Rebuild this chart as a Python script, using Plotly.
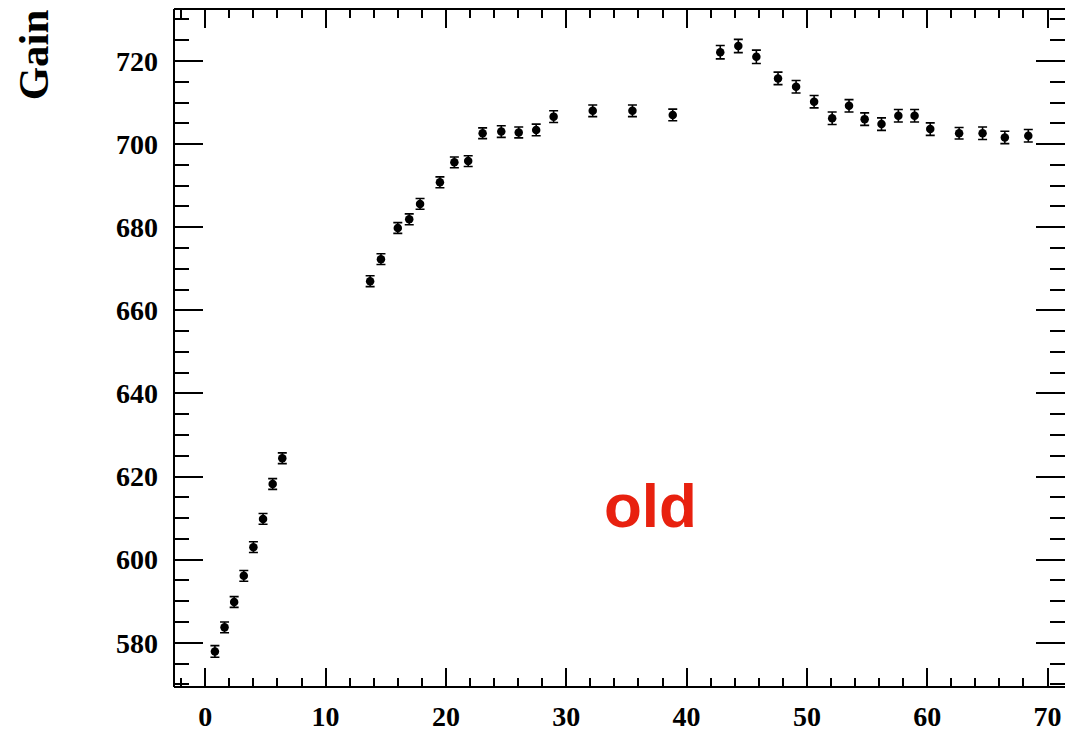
import plotly.graph_objects as go

# Data
run_x = [0.8, 1.6, 2.4, 3.2, 4.0, 4.8, 5.6, 6.4,
         13.7, 14.6, 16.0, 16.95, 17.85, 19.5, 20.7, 21.85, 23.05, 24.6, 26.05, 27.5, 28.95,
         32.2, 35.5, 38.85,
         42.8, 44.3, 45.8, 47.6, 49.1, 50.6, 52.1, 53.5, 54.8, 56.2, 57.6, 58.95, 60.25,
         62.65, 64.6, 66.45, 68.4]
gain = [577.9, 583.7, 589.8, 596.1, 603.0, 609.8, 618.2, 624.4,
        667.0, 672.3, 679.8, 681.9, 685.6, 690.8, 695.6, 695.9, 702.6, 703.0, 702.8, 703.4, 706.6,
        708.0, 708.0, 707.0,
        722.1, 723.6, 721.0, 715.8, 713.8, 710.2, 706.2, 709.2, 706.0, 704.8, 706.8, 706.8, 703.6,
        702.6, 702.6, 701.6, 702.0]
gain_err = [1.4, 1.3, 1.3, 1.3, 1.3, 1.3, 1.3, 1.3,
            1.3, 1.3, 1.3, 1.3, 1.3, 1.3, 1.3, 1.3, 1.3, 1.4, 1.3, 1.4, 1.4,
            1.4, 1.4, 1.4,
            1.6, 1.6, 1.6, 1.5, 1.5, 1.5, 1.5, 1.5, 1.5, 1.5, 1.5, 1.5, 1.5,
            1.4, 1.5, 1.5, 1.5]

x_range = [-2.6, 71.45]
y_range = [569.35, 732.5]
label_text = "old"
y_title = "Gain"

fig = go.Figure()
fig.add_trace(go.Scatter(
    x=run_x, y=gain, mode="markers",
    marker=dict(symbol="circle", size=8.5, color="black"),
    error_y=dict(type="data", array=gain_err, visible=True, color="black",
                 thickness=1.6, width=4.5),
    showlegend=False,
))

tickfont = dict(family="Liberation Serif", size=28, color="black", weight="bold")

fig.update_xaxes(
    range=x_range, showgrid=False, zeroline=False,
    showline=False, mirror="ticks",
    ticks="inside", ticklen=19, tickwidth=1.6, tickcolor="black",
    tick0=0, dtick=10,
    minor=dict(ticks="inside", ticklen=9, tickwidth=1.6, tickcolor="black", dtick=2, tick0=0, showgrid=False),
    tickfont=tickfont, ticklabelstandoff=10,
)
fig.update_yaxes(
    range=y_range, showgrid=False, zeroline=False,
    showline=False, mirror="ticks",
    ticks="inside", ticklen=29, tickwidth=1.6, tickcolor="black",
    tick0=0, dtick=20,
    minor=dict(ticks="inside", ticklen=15, tickwidth=1.6, tickcolor="black", dtick=5, tick0=0, showgrid=False),
    tickfont=tickfont, ticklabelstandoff=15,
)

# frame lines (left, top, bottom); right edge falls at the window border
for x0, y0, x1, y1 in [(0, 0, 0, 1), (0, 1, 1, 1), (0, 0, 1, 0)]:
    fig.add_shape(type="line", xref="paper", yref="paper", x0=x0, y0=y0, x1=x1, y1=y1,
                  line=dict(color="black", width=2))

fig.add_annotation(
    text=y_title, xref="paper", yref="paper", x=-0.158, y=1.002,
    xanchor="center", yanchor="top", textangle=-90, showarrow=False,
    font=dict(family="Liberation Serif", size=43, color="black", weight="bold"),
)
fig.add_annotation(
    text=label_text, xref="x", yref="y", x=37.0, y=613.0,
    xanchor="center", yanchor="middle", showarrow=False,
    font=dict(family="Liberation Sans", size=62, color="#e8210f", weight="bold"),
)

fig.update_layout(
    width=1065, height=733,
    margin=dict(l=174, r=0, t=9, b=46),
    paper_bgcolor="white", plot_bgcolor="white",
)

fig.write_html("out.html")
